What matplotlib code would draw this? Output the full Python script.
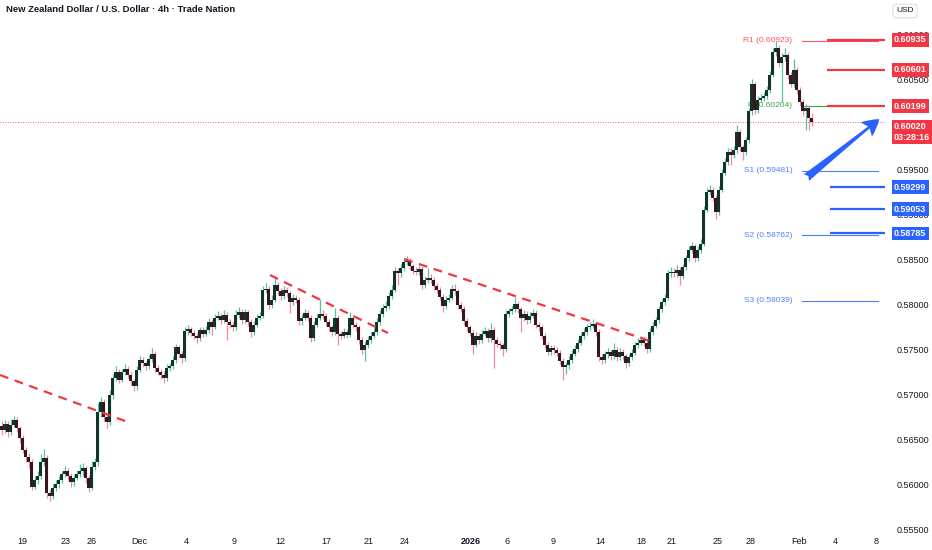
"""NZD/USD 4h candlestick chart with pivot levels and trend lines."""

import matplotlib
matplotlib.use("Agg")
import matplotlib.pyplot as plt
import numpy as np
from matplotlib.transforms import blended_transform_factory

plt.rcParams["font.family"] = ["Liberation Sans", "DejaVu Sans"]

TITLE = "New Zealand Dollar / U.S. Dollar \u00b7 4h \u00b7 Trade Nation"

# prices in 1e-4 units, one entry per 4h bar
FIRST_OPEN = 5665
closes = [
    5660, 5667, 5658, 5666, 5671, 5662, 5651, 5638, 5630, 5625,
    5597, 5605, 5609, 5624, 5629, 5590, 5587, 5596, 5600, 5605,
    5611, 5615, 5609, 5602, 5607, 5611, 5614, 5618, 5607, 5596,
    5619, 5624, 5680, 5691, 5674, 5669, 5699, 5718, 5725, 5716,
    5724, 5728, 5721, 5714, 5709, 5727, 5738, 5734, 5731, 5739,
    5745, 5729, 5725, 5721, 5718, 5729, 5731, 5738, 5752, 5744,
    5740, 5770, 5772, 5768, 5765, 5762, 5771, 5767, 5771, 5780,
    5775, 5785, 5787, 5782, 5788, 5780, 5777, 5774, 5788, 5791,
    5782, 5791, 5780, 5769, 5777, 5785, 5787, 5816, 5817, 5799,
    5805, 5821, 5814, 5809, 5816, 5812, 5802, 5807, 5805, 5781,
    5785, 5790, 5785, 5762, 5777, 5785, 5789, 5787, 5780, 5774,
    5769, 5785, 5767, 5765, 5769, 5766, 5785, 5777, 5774, 5760,
    5749, 5755, 5760, 5765, 5769, 5780, 5789, 5796, 5798, 5809,
    5816, 5837, 5834, 5840, 5847, 5848, 5842, 5837, 5836, 5839,
    5821, 5827, 5829, 5827, 5820, 5816, 5808, 5798, 5805, 5807,
    5817, 5814, 5799, 5795, 5781, 5774, 5768, 5755, 5765, 5760,
    5767, 5770, 5762, 5771, 5760, 5756, 5754, 5750, 5789, 5792,
    5794, 5800, 5794, 5785, 5789, 5782, 5787, 5790, 5777, 5774,
    5765, 5755, 5747, 5751, 5749, 5746, 5737, 5730, 5732, 5738,
    5745, 5750, 5757, 5764, 5769, 5774, 5776, 5778, 5769, 5741,
    5738, 5744, 5747, 5742, 5749, 5741, 5747, 5742, 5734, 5741,
    5746, 5754, 5757, 5760, 5757, 5750, 5769, 5776, 5782, 5794,
    5802, 5807, 5834, 5836, 5834, 5838, 5831, 5841, 5851, 5860,
    5864, 5851, 5860, 5867, 5905, 5925, 5927, 5918, 5902, 5927,
    5946, 5958, 5969, 5966, 5971, 5991, 5974, 5969, 5982, 6014,
    6044, 6016, 6027, 6029, 6031, 6038, 6055, 6080, 6085, 6068,
    6074, 6077, 6055, 6045, 6060, 6038, 6025, 6014, 6018, 6007,
    6002,
]
highs = [
    5670, 5671, 5670, 5672, 5676, 5675, 5664, 5654, 5641, 5634,
    5628, 5609, 5614, 5633, 5639, 5632, 5595, 5600, 5604, 5609,
    5615, 5620, 5618, 5612, 5611, 5616, 5622, 5623, 5620, 5610,
    5626, 5629, 5690, 5697, 5694, 5678, 5704, 5722, 5731, 5728,
    5728, 5733, 5731, 5724, 5717, 5731, 5742, 5741, 5737, 5743,
    5751, 5748, 5732, 5728, 5726, 5733, 5735, 5742, 5756, 5755,
    5748, 5774, 5777, 5775, 5771, 5768, 5775, 5774, 5776, 5784,
    5783, 5789, 5792, 5790, 5793, 5791, 5783, 5780, 5793, 5797,
    5794, 5795, 5793, 5783, 5781, 5789, 5791, 5820, 5823, 5820,
    5810, 5829, 5824, 5818, 5820, 5819, 5815, 5811, 5810, 5808,
    5789, 5794, 5793, 5788, 5781, 5789, 5806, 5793, 5790, 5783,
    5777, 5796, 5788, 5770, 5773, 5772, 5791, 5788, 5780, 5777,
    5763, 5759, 5764, 5769, 5773, 5784, 5793, 5800, 5803, 5813,
    5821, 5841, 5840, 5844, 5851, 5853, 5851, 5845, 5841, 5843,
    5842, 5831, 5840, 5833, 5830, 5823, 5819, 5811, 5809, 5811,
    5821, 5822, 5817, 5802, 5798, 5784, 5777, 5771, 5769, 5768,
    5771, 5774, 5773, 5779, 5774, 5763, 5759, 5757, 5793, 5796,
    5798, 5808, 5803, 5797, 5793, 5792, 5791, 5794, 5793, 5780,
    5777, 5768, 5758, 5755, 5754, 5752, 5749, 5740, 5736, 5742,
    5749, 5754, 5761, 5768, 5773, 5778, 5780, 5783, 5781, 5772,
    5744, 5748, 5751, 5750, 5757, 5752, 5751, 5750, 5745, 5745,
    5750, 5758, 5762, 5764, 5763, 5760, 5773, 5780, 5786, 5798,
    5806, 5811, 5838, 5841, 5840, 5843, 5841, 5845, 5855, 5864,
    5869, 5867, 5864, 5872, 5909, 5929, 5932, 5930, 5921, 5931,
    5950, 5962, 5973, 5973, 5976, 5999, 5994, 5977, 5986, 6018,
    6050, 6047, 6031, 6033, 6036, 6042, 6059, 6084, 6092, 6088,
    6079, 6085, 6080, 6058, 6072, 6063, 6041, 6028, 6022, 6021,
    6012,
]
lows = [
    5655, 5657, 5652, 5654, 5663, 5658, 5646, 5634, 5625, 5618,
    5593, 5594, 5600, 5606, 5620, 5585, 5581, 5583, 5592, 5596,
    5601, 5608, 5605, 5597, 5598, 5604, 5608, 5609, 5601, 5591,
    5593, 5616, 5620, 5674, 5670, 5662, 5666, 5695, 5714, 5712,
    5713, 5721, 5718, 5710, 5703, 5705, 5724, 5730, 5727, 5728,
    5736, 5725, 5721, 5717, 5712, 5715, 5726, 5728, 5735, 5740,
    5734, 5737, 5766, 5764, 5761, 5757, 5759, 5763, 5764, 5768,
    5766, 5772, 5782, 5778, 5779, 5760, 5773, 5770, 5771, 5785,
    5778, 5779, 5776, 5763, 5766, 5774, 5782, 5784, 5812, 5795,
    5796, 5802, 5810, 5805, 5806, 5808, 5790, 5799, 5801, 5777,
    5777, 5782, 5781, 5758, 5759, 5774, 5782, 5783, 5776, 5770,
    5765, 5766, 5755, 5761, 5762, 5762, 5763, 5773, 5770, 5756,
    5745, 5737, 5751, 5757, 5762, 5766, 5777, 5786, 5792, 5795,
    5806, 5813, 5821, 5830, 5837, 5843, 5838, 5833, 5832, 5832,
    5817, 5818, 5823, 5823, 5816, 5812, 5804, 5791, 5795, 5802,
    5804, 5810, 5795, 5791, 5777, 5770, 5764, 5744, 5752, 5756,
    5757, 5764, 5758, 5758, 5729, 5752, 5750, 5742, 5747, 5786,
    5789, 5791, 5790, 5769, 5781, 5778, 5779, 5784, 5773, 5770,
    5761, 5751, 5743, 5743, 5745, 5742, 5733, 5716, 5722, 5728,
    5735, 5742, 5747, 5754, 5761, 5766, 5771, 5773, 5765, 5737,
    5733, 5735, 5740, 5738, 5739, 5737, 5738, 5738, 5729, 5731,
    5738, 5743, 5751, 5754, 5753, 5746, 5747, 5766, 5773, 5779,
    5791, 5799, 5804, 5830, 5830, 5830, 5821, 5828, 5838, 5848,
    5857, 5847, 5848, 5857, 5864, 5902, 5921, 5914, 5894, 5899,
    5924, 5943, 5955, 5955, 5962, 5968, 5970, 5960, 5966, 5979,
    6010, 6011, 6012, 6024, 6026, 6028, 6035, 6052, 6076, 6063,
    6024, 6070, 6050, 6041, 6041, 6033, 6020, 6009, 5993, 5993,
    5998,
]

# date axis: bar position of each label
date_pos = [6.8, 21.2, 30.2, 45.8, 61.5, 77.5, 92.8, 108.2, 122.5, 134.2,
            156.5, 168.5, 183.8, 199.5, 213.2, 223.5, 238.8, 249.8, 265.8,
            277.8, 291.5]
date_labels = ["19", "23", "26", "Dec", "4", "9", "12", "17", "21", "24",
               "2026", "6", "9", "14", "18", "21", "25", "28", "Feb", "4", "8"]
# 0.60000 sits fully under the last-price tag, so it is not listed
price_ticks = [0.555, 0.560, 0.565, 0.570, 0.575, 0.580, 0.585, 0.590,
               0.595, 0.605, 0.610]

pivot_names = ["R1", "P", "S1", "S2", "S3"]
pivot_values = [0.60923, 0.60204, 0.59481, 0.58762, 0.58039]
resistance = [0.60935, 0.60601, 0.60199]
support = [0.59299, 0.59053, 0.58785]
last_price = 0.60020
countdown = "03:28:16"

# dashed downtrend lines: (bar, price) -> (bar, price)
trend_lines = [
    ((-0.5, 0.57211), (41.2, 0.56700)),
    ((89.5, 0.58322), (128.8, 0.57678)),
    ((134.2, 0.58500), (216.2, 0.57589)),
]
arrow_start = (268.3, 0.59405)
arrow_end = (292.6, 0.60055)

RED = "#f23645"
BLUE = "#2962ff"
TXT = "#131722"

fig = plt.figure(figsize=(9.32, 5.5), dpi=100)
ax = fig.add_axes([0.0, 0.0273, 0.9496, 0.9327])

c = np.array(closes) * 1e-4
o = np.concatenate([[FIRST_OPEN * 1e-4], c[:-1]])
h = np.array(highs) * 1e-4
lo = np.array(lows) * 1e-4
x = np.arange(len(c))
up = c >= o

wick_col = np.where(up, "#5cbfa8", "#f28b9b")
body_col = np.where(up, "#123328", "#34181d")
ax.vlines(x, lo, h, colors=wick_col, lw=0.9, zorder=3)
body_h = np.maximum(np.abs(c - o), 0.00003)
ax.bar(x, body_h, bottom=np.minimum(o, c), width=0.8, color=body_col,
       linewidth=0, zorder=4)

for (x0, y0), (x1, y1) in trend_lines:
    ax.plot([x0, x1], [y0, y1], color=RED, lw=1.6, ls=(0, (4, 3)), zorder=5)

# last price dotted line
ax.axhline(last_price, color=RED, lw=0.6, ls=(0, (1, 2)), zorder=2)

# pivot levels
piv_x0, piv_x1 = 266.8, 292.2
piv_colors = {"R1": "#f7525f", "P": "#43a047"}
for name, val in zip(pivot_names, pivot_values):
    col = piv_colors.get(name, "#4f7ff7")
    ax.plot([piv_x0, piv_x1], [val, val], color=col, lw=0.8, zorder=2)
    ax.text(263.6, val, f"{name} ({val:.5f})", color=col, fontsize=6,
            ha="right", va="center", zorder=2)

for val in resistance:
    ax.plot([275.2, 294.5], [val, val], color=RED, lw=1.6, zorder=6,
            solid_capstyle="butt")
for val in support:
    ax.plot([276.2, 294.5], [val, val], color=BLUE, lw=1.6, zorder=6,
            solid_capstyle="butt")

ax.annotate("", xy=arrow_end, xytext=arrow_start,
            arrowprops=dict(arrowstyle="fancy,head_length=1.2,head_width=1.3,tail_width=0.6",
                            color=BLUE, lw=0, shrinkA=0, shrinkB=0),
            zorder=7)

ax.set_xlim(-0.5, 294.5)
ax.set_ylim(0.554336, 0.611336)
for s in ax.spines.values():
    s.set_visible(False)

ax.set_xticks(date_pos)
ax.set_xticklabels(date_labels)
for lbl in ax.get_xticklabels():
    if lbl.get_text() == "2026":
        lbl.set_fontweight("bold")
ax.tick_params(axis="x", length=0, pad=1.5, labelsize=6.5, labelcolor=TXT)

ax.yaxis.tick_right()
ax.set_yticks(price_ticks)
ax.set_yticklabels([f"{p:.5f}" for p in price_ticks])
ax.tick_params(axis="y", length=0, pad=8, labelsize=6.5, labelcolor=TXT)

# price tags on the scale
tr = blended_transform_factory(fig.transFigure, ax.transData)
tag_x = 894 / 932
box = dict(boxstyle="square,pad=0.25", lw=0)
for val in resistance:
    ax.text(tag_x, val, f"{val:.5f}", transform=tr, fontsize=6.5, color="white",
            fontweight="bold", ha="left", va="center", clip_on=False, zorder=10,
            bbox=dict(box, fc=RED))
for val in support:
    ax.text(tag_x, val, f"{val:.5f}", transform=tr, fontsize=6.5, color="white",
            fontweight="bold", ha="left", va="center", clip_on=False, zorder=10,
            bbox=dict(box, fc=BLUE))
ax.text(tag_x, last_price, f"{last_price:.5f}\n{countdown}", transform=tr,
        fontsize=6.5, color="white", fontweight="bold", ha="left", va="top",
        linespacing=1.25, clip_on=False, zorder=10,
        bbox=dict(box, fc=RED))

fig.text(6 / 932, 1 - 10 / 550, TITLE, fontsize=6.8, fontweight="bold",
         color=TXT, va="center", ha="left")
fig.text(905 / 932, 1 - 11 / 550, "USD", fontsize=6, color=TXT, va="center",
         ha="center", bbox=dict(boxstyle="round,pad=0.4", fc="white",
                                ec="#d1d4dc", lw=0.6))

fig.savefig("out.png", dpi=100, facecolor="white")
